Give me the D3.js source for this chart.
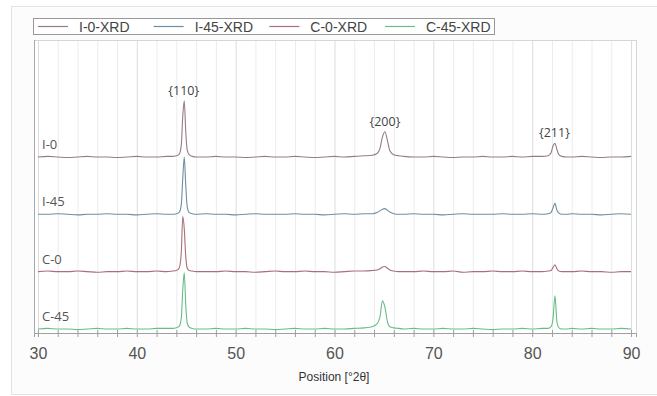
<!DOCTYPE html>
<html>
<head>
<meta charset="utf-8">
<script src="https://cdn.jsdelivr.net/npm/d3@7"></script>
<style>
  body { margin: 0; background: #fff; }
  svg { display: block; }
</style>
</head>
<body>
<div id="chart"></div>
<script>
// Chart data
var seriesNames = ["I-0-XRD", "I-45-XRD", "C-0-XRD", "C-45-XRD"];
var sampleLabels = ["I-0", "I-45", "C-0", "C-45"];
var seriesOffsets = [300, 200, 100, 0];
var seriesColors = ["#957c86", "#6f8ea0", "#a8707a", "#66bd85"];

var twoTheta = [
  30, 31, 32, 33, 34, 35, 36, 37, 38, 39, 40, 41, 42, 43,
  43.6, 44.0, 44.3, 44.5, 44.65, 44.8, 44.95, 45.1, 45.3, 45.6, 46.0,
  47, 48, 49, 50, 51, 52, 53, 54, 55, 56, 57, 58, 59, 60, 61, 62, 63,
  63.8, 64.3, 64.6, 64.85, 65.1, 65.35, 65.6, 66.0, 66.5,
  67, 68, 69, 70, 71, 72, 73, 74, 75, 76, 77, 78, 79, 80, 81,
  81.6, 81.9, 82.1, 82.3, 82.5, 82.7, 83.0, 83.5,
  84, 85, 86, 87, 88, 89, 90
];

var intensityI0 = [
  7, 8, 7, 6, 7, 8, 7, 7, 6, 7, 8, 7, 7, 8,
  8, 9, 12, 28, 78, 105, 52, 19, 11, 8, 7,
  7, 8, 7, 7, 6, 7, 8, 7, 7, 8, 7, 6, 7, 8, 7, 8, 9,
  10, 13, 22, 42, 51, 36, 18, 11, 9,
  8, 7, 7, 8, 7, 6, 7, 7, 8, 7, 7, 8, 7, 8, 8,
  9, 14, 26, 31, 20, 11, 8, 7,
  7, 8, 7, 6, 7, 7, 8
];
var intensityI45 = [
  7, 7, 8, 7, 6, 7, 7, 8, 7, 7, 6, 7, 8, 7,
  7, 8, 11, 24, 70, 107, 58, 20, 10, 8, 7,
  8, 7, 7, 6, 7, 8, 7, 7, 7, 8, 7, 7, 6, 7, 8, 7, 8,
  8, 10, 13, 16, 17, 14, 11, 8, 7,
  7, 8, 7, 7, 6, 7, 8, 7, 7, 7, 8, 7, 7, 8, 7,
  8, 10, 18, 26, 14, 9, 7, 7,
  8, 7, 7, 6, 7, 8, 7
];
var intensityC0 = [
  7, 8, 7, 7, 8, 7, 6, 7, 7, 8, 7, 7, 8, 7,
  8, 9, 14, 40, 103, 82, 34, 13, 9, 8, 7,
  7, 7, 8, 7, 7, 6, 7, 8, 7, 7, 8, 7, 7, 6, 7, 8, 8,
  9, 10, 12, 15, 16, 13, 10, 8, 7,
  7, 7, 8, 7, 7, 8, 6, 7, 7, 8, 7, 7, 8, 7, 7,
  8, 9, 14, 19, 12, 8, 7, 7,
  7, 8, 7, 7, 6, 7, 7
];
var intensityC45 = [
  7, 8, 7, 7, 6, 7, 8, 7, 7, 8, 7, 7, 8, 8,
  8, 9, 12, 26, 76, 105, 50, 17, 10, 8, 7,
  7, 8, 7, 7, 8, 7, 7, 6, 7, 8, 7, 7, 8, 7, 7, 8, 9,
  11, 16, 28, 56, 45, 20, 11, 9, 8,
  7, 8, 7, 7, 8, 7, 7, 8, 7, 6, 7, 7, 8, 7, 8,
  8, 11, 24, 65, 20, 9, 7, 7,
  8, 7, 8, 7, 7, 8, 7
];
var intensities = [intensityI0, intensityI45, intensityC0, intensityC45];

var peakLabels = ["{110}", "{200}", "{211}"];
var peakPositions = [44.75, 65.1, 82.25];
var peakTops = [105, 51, 31]; // I-0 peak intensities, labels sit above them

var majorTicks = [30, 40, 50, 60, 70, 80, 90];
var gridTicks = d3.range(30, 91, 2);

/*  SVG SETUP  */
var svgWidth = 657, svgHeight = 396;
var plot = { left: 34, right: 636, top: 40, bottom: 333 };

var svg = d3.select("#chart").append("svg")
    .attr("width", svgWidth)
    .attr("height", svgHeight);

// outer panel
svg.append("rect")
    .attr("x", 11.5).attr("y", 6.5)
    .attr("width", 646).attr("height", 388)
    .attr("fill", "#fcfcfc")
    .attr("stroke", "#e3e3e3");

// plot background
svg.append("rect")
    .attr("x", plot.left).attr("y", plot.top)
    .attr("width", plot.right - plot.left)
    .attr("height", plot.bottom - plot.top)
    .attr("fill", "#fff");

// Scales
var xScale = d3.scaleLinear().domain([29.6, 90.5]).range([plot.left, plot.right]);
var yScale = d3.scaleLinear().domain([0, 511]).range([plot.bottom, plot.top]);

// vertical grid
svg.append("g").selectAll("line")
    .data(gridTicks)
    .enter()
    .append("line")
    .attr("x1", d => xScale(d) + 0.5)
    .attr("x2", d => xScale(d) + 0.5)
    .attr("y1", plot.top)
    .attr("y2", plot.bottom)
    .attr("stroke", d => d % 10 === 0 ? "#dcdcdc" : "#ececec")
    .attr("stroke-width", 1);

// plot frame
svg.append("rect")
    .attr("x", plot.left + 0.5).attr("y", plot.top + 0.5)
    .attr("width", plot.right - plot.left)
    .attr("height", plot.bottom - plot.top)
    .attr("fill", "none")
    .attr("stroke", "#d6d6d6");
svg.append("line")
    .attr("x1", plot.left + 0.5).attr("x2", plot.left + 0.5)
    .attr("y1", plot.top).attr("y2", plot.bottom)
    .attr("stroke", "#a8a8a8");

// Axes: minor ticks every 2, labels every 10
var minorAxis = d3.axisBottom(xScale).tickValues(gridTicks).tickSize(4).tickFormat("");
var majorAxis = d3.axisBottom(xScale).tickValues(majorTicks).tickSize(0).tickPadding(15)
    .tickFormat(d3.format("d"));

var gMinor = svg.append("g")
    .attr("transform", `translate(0, ${plot.bottom})`)
    .call(minorAxis);
gMinor.select(".domain").attr("stroke", "#a0a0a0");
gMinor.selectAll(".tick line").attr("stroke", "#a0a0a0").attr("y1", -3);

var gMajor = svg.append("g")
    .attr("transform", `translate(0, ${plot.bottom})`)
    .call(majorAxis);
gMajor.select(".domain").remove();
gMajor.selectAll("text")
    .attr("font-family", "'Liberation Sans', Arial, sans-serif")
    .attr("font-size", 16)
    .attr("fill", "#555");

// axis title
svg.append("text")
    .attr("x", 334).attr("y", 381)
    .attr("text-anchor", "middle")
    .attr("font-family", "'Liberation Sans', Arial, sans-serif")
    .attr("font-size", 12)
    .attr("fill", "#333")
    .text("Position [°2θ]");

/*  TRACES  */
var line = d3.line()
    .x(d => xScale(d[0]))
    .y(d => yScale(d[1]))
    .curve(d3.curveMonotoneX);

intensities.forEach(function(vals, i) {
    var pts = twoTheta.map((t, j) => [t, vals[j] + seriesOffsets[i]]);
    svg.append("path")
        .datum(pts)
        .attr("fill", "none")
        .attr("stroke", seriesColors[i])
        .attr("stroke-width", 1.1)
        .attr("stroke-linejoin", "round")
        .attr("d", line);
});

// sample labels
svg.append("g").selectAll("text")
    .data(sampleLabels)
    .enter()
    .append("text")
    .attr("x", 42)
    .attr("y", (d, i) => yScale(seriesOffsets[i] + 7) - 8)
    .attr("font-family", "'Open Sans', sans-serif")
    .attr("font-size", 13)
    .attr("fill", "#555")
    .text(d => d);

// peak labels above I-0
svg.append("g").selectAll("text")
    .data(peakLabels)
    .enter()
    .append("text")
    .attr("x", (d, i) => xScale(peakPositions[i]))
    .attr("y", (d, i) => yScale(seriesOffsets[0] + peakTops[i]) - 6)
    .attr("text-anchor", "middle")
    .attr("font-family", "'Open Sans', sans-serif")
    .attr("font-size", 12.5)
    .attr("fill", "#444")
    .text(d => d);

/*  LEGEND  */
var legend = svg.append("g");
legend.append("rect")
    .attr("x", 33.5).attr("y", 18.5)
    .attr("width", 461).attr("height", 16)
    .attr("fill", "#fff")
    .attr("stroke", "#999");

var legendX = d3.scaleLinear().domain([0, 3]).range([38, 385]);
var items = legend.selectAll(".item")
    .data(seriesNames)
    .enter()
    .append("g")
    .attr("class", "item")
    .attr("transform", (d, i) => `translate(${legendX(i)}, 26.5)`);
items.append("line")
    .attr("x1", 0).attr("x2", 30)
    .attr("stroke", (d, i) => seriesColors[i])
    .attr("stroke-width", 1.2);
items.append("text")
    .attr("x", 41).attr("y", 5)
    .attr("font-family", "'Liberation Sans', Arial, sans-serif")
    .attr("font-size", 14)
    .attr("fill", "#444")
    .text(d => d);
</script>
</body>
</html>
